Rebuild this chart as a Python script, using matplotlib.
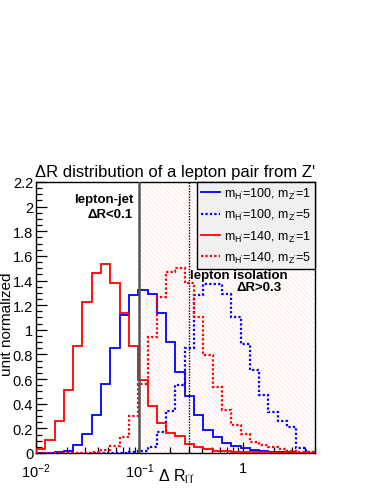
import numpy as np
import matplotlib
matplotlib.use("Agg")
import matplotlib.pyplot as plt
from matplotlib.lines import Line2D
from matplotlib.ticker import FixedLocator, MultipleLocator, LogLocator, NullFormatter

plt.rcParams['font.family'] = ['Liberation Sans', 'DejaVu Sans']
plt.rcParams['mathtext.fontset'] = 'custom'
plt.rcParams['mathtext.rm'] = 'Liberation Sans'
plt.rcParams['mathtext.it'] = 'Liberation Sans:italic'
plt.rcParams['mathtext.default'] = 'regular'
plt.rcParams['hatch.linewidth'] = 0.5

# 30 log-spaced bins in delta R
bin_lo = 0.01
bin_hi = 5.0
n_bins = 30

# unit normalized histograms, one value per bin
h100_z1 = [0.0, 0.002, 0.005, 0.02, 0.068, 0.154, 0.311, 0.56, 0.852, 1.12,
           1.285, 1.326, 1.29, 1.134, 0.9, 0.66, 0.465, 0.308, 0.19, 0.127,
           0.084, 0.06, 0.04, 0.025, 0.018, 0.012, 0.008, 0.005, 0.003, 0.002]
h100_z5 = [0.0, 0.0, 0.0, 0.0, 0.0, 0.0, 0.0, 0.001, 0.002, 0.003,
           0.005, 0.02, 0.05, 0.17, 0.344, 0.55, 0.85, 1.28, 1.37, 1.37,
           1.29, 1.1, 0.885, 0.674, 0.473, 0.335, 0.257, 0.208, 0.04, 0.01]
h140_z1 = [0.035, 0.108, 0.257, 0.511, 0.866, 1.228, 1.459, 1.537, 1.38, 1.134,
           0.866, 0.593, 0.384, 0.244, 0.165, 0.14, 0.075, 0.05, 0.03, 0.02,
           0.015, 0.01, 0.007, 0.005, 0.004, 0.003, 0.002, 0.001, 0.001, 0.0]
h140_z5 = [0.0, 0.0, 0.0, 0.0, 0.0, 0.003, 0.01, 0.025, 0.06, 0.132,
           0.298, 0.56, 0.94, 1.264, 1.47, 1.5, 1.38, 1.1, 0.795, 0.533,
           0.352, 0.23, 0.154, 0.092, 0.065, 0.046, 0.03, 0.02, 0.01, 0.005]

labels = ["m$_{H'}$=100, m$_{Z'}$=1", "m$_{H'}$=100, m$_{Z'}$=5",
          "m$_{H'}$=140, m$_{Z'}$=1", "m$_{H'}$=140, m$_{Z'}$=5"]

jet_cut = 0.1
iso_cut = 0.3

xticks = [0.01, 0.1, 1]
xticklabels = ['$10^{-2}$', '$10^{-1}$', '1']

edges = np.logspace(np.log10(bin_lo), np.log10(bin_hi), n_bins + 1)

fig = plt.figure(figsize=(3.78, 4.89), dpi=100)
ax = fig.add_axes([0.0952, 0.0716, 0.738, 0.5542])

# hatched isolation region
ax.axvspan(jet_cut, bin_hi, facecolor='none', edgecolor='#ffdcdc',
           hatch='\\' * 7, linewidth=0, zorder=0)

dot = (0, (1, 1))
ax.stairs(h100_z1, edges, color='blue', lw=1.3, zorder=3)
ax.stairs(h100_z5, edges, color='blue', lw=1.6, ls=dot, zorder=3)
ax.stairs(h140_z1, edges, color='red', lw=1.3, zorder=3)
ax.stairs(h140_z5, edges, color='red', lw=1.6, ls=dot, zorder=3)

ax.axvline(jet_cut, color='#555555', lw=1.8, zorder=4)
ax.axvline(iso_cut, color='black', lw=1.0, ls=dot, zorder=4)

ax.set_xscale('log')
ax.set_xlim(bin_lo, bin_hi)
ax.set_ylim(0, 2.2)

ax.xaxis.set_major_locator(FixedLocator(xticks))
ax.set_xticklabels(xticklabels)
ax.xaxis.set_minor_locator(LogLocator(base=10, subs=np.arange(2, 10)))
ax.xaxis.set_minor_formatter(NullFormatter())
ax.yaxis.set_major_locator(MultipleLocator(0.2))
ax.yaxis.set_minor_locator(MultipleLocator(0.05))
ax.set_yticklabels([('%g' % v) for v in ax.get_yticks()])

ax.tick_params(which='both', direction='in', top=False, right=False, labelsize=10.5)
ax.tick_params(which='major', length=8, width=0.9)
ax.tick_params(which='minor', length=4.5, width=0.9)
ax.tick_params(axis='x', which='major', pad=6)
ax.tick_params(axis='y', which='major', pad=2)

for s in ax.spines.values():
    s.set_linewidth(1.0)

ax.set_title("ΔR distribution of a lepton pair from Z'", fontsize=12, pad=4)
ax.set_ylabel('unit normalized', fontsize=11)
ax.yaxis.set_label_coords(-0.078, 0.48)
ax.set_xlabel("Δ R$_{l'l'}$", fontsize=11.5)
ax.xaxis.set_label_coords(0.505, -0.05)

ax.text(0.348, 0.937, 'lepton-jet', transform=ax.transAxes, ha='right', va='center',
        fontsize=9.5, fontweight='bold', zorder=8)
ax.text(0.348, 0.882, 'ΔR<0.1', transform=ax.transAxes, ha='right', va='center',
        fontsize=9.5, fontweight='bold', zorder=8)
ax.text(0.552, 0.655, 'lepton isolation', transform=ax.transAxes, ha='left', va='center',
        fontsize=9.5, fontweight='bold', zorder=8)
ax.text(0.882, 0.612, 'ΔR>0.3', transform=ax.transAxes, ha='right', va='center',
        fontsize=9.5, fontweight='bold', zorder=8)

handles = [Line2D([], [], color='blue', lw=1.3),
           Line2D([], [], color='blue', lw=1.6, ls=dot),
           Line2D([], [], color='red', lw=1.3),
           Line2D([], [], color='red', lw=1.6, ls=dot)]
leg = ax.legend(handles, labels, loc='upper right', bbox_to_anchor=(1, 1),
                borderaxespad=0, fontsize=9, frameon=True, fancybox=False,
                edgecolor='black', facecolor='#f0f0f0', framealpha=1,
                handlelength=1.5, handletextpad=0.35, labelspacing=0.5,
                borderpad=0.3)
leg.get_frame().set_linewidth(1.0)
leg.set_zorder(7)

fig.savefig('out.png', dpi=100)
